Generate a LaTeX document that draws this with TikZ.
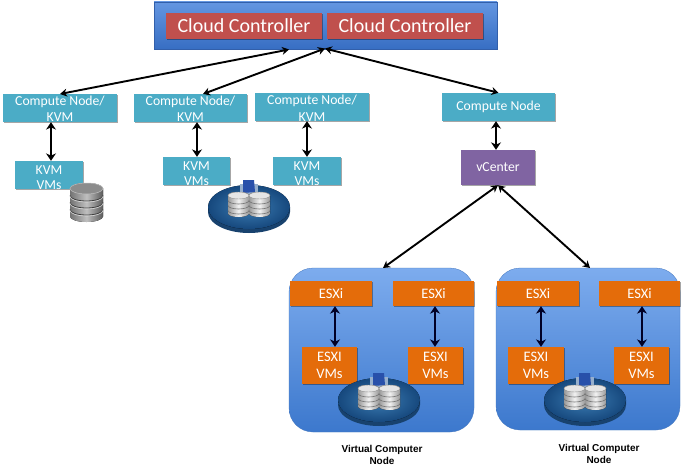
\documentclass[tikz,border=0pt]{standalone}
\usepackage{fontspec}
\setmainfont{Carlito}
\newfontfamily\labelfont{Liberation Sans}
\usetikzlibrary{arrows.meta,shadows,positioning}
\newcommand{\lowtext}[2]{\raisebox{-14pt}[14pt][14pt]{\shortstack{#1\\[#2]}}}
\definecolor{tealbox}{HTML}{4BACC6}
\definecolor{redbox}{HTML}{C0504D}
\definecolor{orangebox}{HTML}{E46C0A}
\definecolor{purplebox}{HTML}{8064A2}
\definecolor{topA}{RGB}{100,150,225}
\definecolor{topB}{RGB}{55,110,195}
\definecolor{topE}{RGB}{50,95,170}
\definecolor{panA}{RGB}{125,172,238}
\definecolor{panB}{RGB}{60,120,205}
\definecolor{panE}{RGB}{70,120,190}
\definecolor{platD}{RGB}{24,66,110}
\definecolor{platI}{RGB}{60,125,180}
\definecolor{platO}{RGB}{22,72,125}
\definecolor{platS}{RGB}{40,80,170}
\definecolor{platL}{RGB}{150,175,205}
\tikzset{
  x=1pt,y=1pt,
  box/.style={inner sep=0pt,align=center,text=white,minimum width=#1,
    drop shadow={shadow xshift=0.6pt,shadow yshift=-0.8pt,opacity=0.35,fill=black}},
  tealnode/.style={box=#1,fill=tealbox,font=\fontsize{13.7}{16.5}\selectfont},
  cloudnode/.style={box=156pt,fill=redbox,minimum height=26pt,font=\fontsize{20}{22}\selectfont},
  esx/.style={box=#1,fill=orangebox,font=\fontsize{14.5}{16.5}\selectfont},
  topbar/.style={minimum width=343pt,minimum height=47pt,inner sep=0pt,top color=topA,bottom color=topB,draw=topE,line width=0.4pt},
  panel/.style={inner sep=0pt,rounded corners=24pt,top color=panA,bottom color=panB,draw=panE,line width=0.3pt},
  link/.style={draw=black,line width=1.9pt,{Stealth[length=7pt,width=8pt]}-{Stealth[length=7pt,width=8pt]}},
  vlink/.style={draw=black,line width=2.4pt,{Stealth[length=7.5pt,width=10pt]}-{Stealth[length=7.5pt,width=10pt]}},
  linkb/.style={draw=black!85!blue,line width=2.4pt,{Stealth[length=7.5pt,width=10pt]}-{Stealth[length=7.5pt,width=10pt]}},
  captxt/.style={font=\labelfont\bfseries\fontsize{10}{12}\selectfont,align=center,text=black},
  pics/disk/.style={code={
    \fill[left color=black!55,right color=black!65,middle color=black!25]
      (-16.5,0) -- (-16.5,-28) arc[start angle=180,end angle=360,x radius=16.5,y radius=5.5] -- (16.5,0)
      arc[start angle=0,end angle=180,x radius=16.5,y radius=5.5] -- cycle;
    \foreach \yy in {-7,-14,-21}
      \draw[black!75,line width=0.8pt] (-16.5,\yy) arc[start angle=180,end angle=360,x radius=16.5,y radius=5.5];
    \foreach \yy in {-8,-15,-22}
      \draw[black!15,line width=0.6pt] (-16.5,\yy) arc[start angle=180,end angle=360,x radius=16.5,y radius=5.5];
    \fill[black!45] (0,0) ellipse[x radius=16.5,y radius=5.5];
    \draw[black!25,line width=0.5pt] (0,0) ellipse[x radius=16.5,y radius=5.5];
  }},
  pics/minidisk/.style={code={
    \fill[left color=black!40,right color=black!40,middle color=black!5]
      (-10.5,0) -- (-10.5,-18) arc[start angle=180,end angle=360,x radius=10.5,y radius=3.5] -- (10.5,0)
      arc[start angle=0,end angle=180,x radius=10.5,y radius=3.5] -- cycle;
    \foreach \yy in {-5,-10,-15}
      \draw[black!55,line width=0.6pt] (-10.5,\yy) arc[start angle=180,end angle=360,x radius=10.5,y radius=3.5];
    \fill[black!10] (0,0) ellipse[x radius=10.5,y radius=3.5];
    \draw[black!45,line width=0.4pt] (0,0) ellipse[x radius=10.5,y radius=3.5];
  }},
  pics/platter/.style={code={
    \fill[platD] (-41,-1) -- (-41,-6) arc[start angle=180,end angle=360,x radius=41,y radius=21] -- (41,-1) -- cycle;
    \fill[inner color=platI,outer color=platO] (0,-1) ellipse[x radius=41,y radius=22];
    \fill[platL] (-9,22) rectangle (9,12);
    \fill[platS] (-6,26) -- (5,26) -- (6,14) -- (-6,13) -- cycle;
    \pic at (-10.5,10.5) {minidisk};
    \pic at (10.5,10.5) {minidisk};
  }},
  pics/smallplatter/.style={code={
    \begin{scope}[scale=0.9]
    \pic {platter};
    \end{scope}
  }}
}
\begin{document}
\begin{tikzpicture}
\useasboundingbox (0,0) rectangle (685,-468);
\fill[white] (0,0) rectangle (685,-468);

% top
\node[topbar] (top) at (325.5,-25.5) {};
\node[cloudnode] (cc1) at (244,-26) {Cloud Controller};
\node[cloudnode] (cc2) at (405,-26) {Cloud Controller};

% compute row
\node[tealnode=114pt,minimum height=28pt] (cn1) at (60,-108) {\raisebox{-14pt}[14pt][14pt]{\shortstack{Compute Node/\\[2.5pt]KVM}}};
\node[tealnode=113pt,minimum height=28pt] (cn2) at (190.5,-108) {\raisebox{-14pt}[14pt][14pt]{\shortstack{Compute Node/\\[2.5pt]KVM}}};
\node[tealnode=114pt,minimum height=28pt] (cn3) at (312,-107) {\raisebox{-14pt}[14pt][14pt]{\shortstack{Compute Node/\\[2.5pt]KVM}}};
\node[tealnode=113pt,minimum height=28pt] (cn4) at (498.5,-107) {Compute Node};

% VMs
\node[tealnode=68pt,minimum height=28pt] (vm1) at (49,-175) {\raisebox{-14pt}[14pt][14pt]{\shortstack{KVM\\[3pt]VMs}}};
\node[tealnode=67pt,minimum height=28pt] (vm2) at (196.5,-171) {\raisebox{-14pt}[14pt][14pt]{\shortstack{KVM\\[3pt]VMs}}};
\node[tealnode=68pt,minimum height=28pt] (vm3) at (307,-171) {\raisebox{-14pt}[14pt][14pt]{\shortstack{KVM\\[3pt]VMs}}};

% storage
\pic at (86.5,-188.5) {disk};
\pic at (249,-206) {platter};

% vCenter
\node[box=74pt,minimum height=35pt,fill=purplebox,font=\fontsize{13.7}{16}\selectfont] (vc) at (498,-167.5) {vCenter};

% panels
\node[panel,minimum width=185pt,minimum height=164pt] (p1) at (381.5,-350) {};
\node[panel,minimum width=184pt,minimum height=162pt] (p2) at (588,-349) {};

% ESXi
\node[esx=82pt,minimum height=25pt] (e1) at (331,-293.5) {ESXi};
\node[esx=81pt,minimum height=25pt] (e2) at (433.5,-293.5) {ESXi};
\node[esx=82pt,minimum height=25pt] (e3) at (538,-293.5) {ESXi};
\node[esx=81pt,minimum height=25pt] (e4) at (639.5,-293.5) {ESXi};

\node[esx=55pt,minimum height=37pt] (v1) at (329.5,-365.5) {ESXI\\VMs};
\node[esx=55pt,minimum height=37pt] (v2) at (435.5,-365.5) {ESXI\\VMs};
\node[esx=56pt,minimum height=37pt] (v3) at (536,-365.5) {ESXI\\VMs};
\node[esx=55pt,minimum height=37pt] (v4) at (641.5,-365.5) {ESXI\\VMs};

\pic at (379,-399) {smallplatter};
\pic at (585,-399) {smallplatter};

% captions
\node[captxt] (c1) at (382,-455) {Virtual Computer\\Node};
\node[captxt] (c2) at (599,-454) {Virtual Computer\\Node};

% free ends on top bar
\coordinate (t1) at (289,-49.5);
\coordinate (t2) at (325,-48.5);
\coordinate (s1) at (60,-94);
\coordinate (s2) at (203,-94);
\coordinate (p1t) at (383,-268);
\coordinate (p2t) at (590,-268);

\draw[link] (s1) -- (t1);
\draw[link] (s2) -- (t2);
\draw[link] (cn4.north) -- (t2);
\draw[link] (vc.south) -- (p1t);
\draw[link] (vc.south) -- (p2t);

\draw[vlink] (cn1.south -| 51,0) -- (vm1.north -| 51,0);
\draw[vlink] (cn2.south -| 197,0) -- (vm2.north -| 197,0);
\draw[vlink] (cn3.south -| 307,0) -- (vm3.north -| 307,0);
\draw[vlink] (cn4.south -| 496,0) -- (vc.north -| 496,0);

\draw[linkb] (e1.south -| 335,0) -- (v1.north -| 335,0);
\draw[linkb] (e2.south -| 435,0) -- (v2.north -| 435,0);
\draw[linkb] (e3.south -| 541,0) -- (v3.north -| 541,0);
\draw[linkb] (e4.south -| 642,0) -- (v4.north -| 642,0);
\end{tikzpicture}
\end{document}
